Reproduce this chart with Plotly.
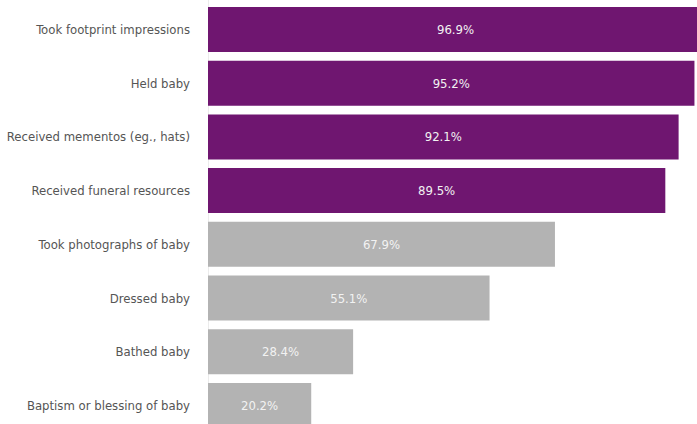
import plotly.graph_objects as go

categories = [
    "Took footprint impressions",
    "Held baby",
    "Received mementos (eg., hats)",
    "Received funeral resources",
    "Took photographs of baby",
    "Dressed baby",
    "Bathed baby",
    "Baptism or blessing of baby",
]
values = [96.9, 95.2, 92.1, 89.5, 67.9, 55.1, 28.4, 20.2]
n_highlight = 4

PURPLE = "#6f1670"
GRAY = "#b3b3b3"
FONT = "DejaVu Sans Condensed, Liberation Sans Narrow, sans-serif"
colors = [PURPLE if i < n_highlight else GRAY for i in range(len(values))]
labels = [f"{v:.1f}%" for v in values]

fig = go.Figure(go.Bar(
    x=values, y=categories, orientation="h",
    marker=dict(color=colors, line=dict(width=0)),
    width=0.838,
    text=labels, textposition="inside", insidetextanchor="middle",
    textfont=dict(color="#f2f2f2", size=13, family=FONT),
    cliponaxis=True,
    hoverinfo="skip",
))

fig.update_layout(
    width=697, height=424,
    margin=dict(l=208, r=0, t=0, b=0, autoexpand=False),
    paper_bgcolor="white", plot_bgcolor="white",
    showlegend=False,
    xaxis=dict(range=[0, 95.7], visible=False, fixedrange=True, automargin=False),
    yaxis=dict(
        range=[7.346, -0.549],
        automargin=False, fixedrange=True,
        showgrid=False, zeroline=False,
        showline=False, ticks="",
        ticklabelstandoff=17,
        tickfont=dict(size=13, color="#555555", family=FONT),
    ),
    shapes=[dict(type="line", xref="x", yref="paper", x0=0, x1=0, y0=0, y1=1,
                 line=dict(color="#e6e6e6", width=1.5), layer="below")],
)

fig.write_html(
    "out.html",
    config={"displayModeBar": False, "staticPlot": True},
    post_script="document.body.style.margin='0';document.body.style.overflow='hidden';",
)
